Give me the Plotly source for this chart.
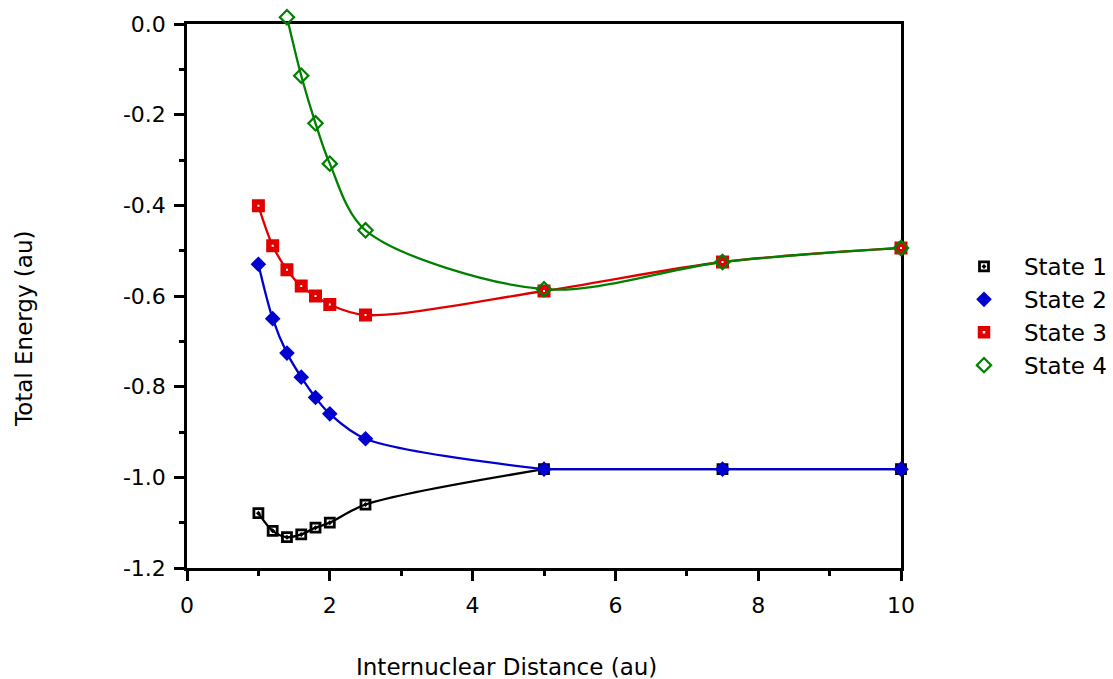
import plotly.graph_objects as go

# Potential energy curves for four electronic states
r_au = [1.0, 1.2, 1.4, 1.6, 1.8, 2.0, 2.5, 5.0, 7.5, 10.0]

state1 = [-1.079, -1.118, -1.132, -1.126, -1.111, -1.100, -1.060, -0.982, -0.982, -0.982]
state2 = [-0.530, -0.650, -0.726, -0.779, -0.824, -0.860, -0.915, -0.982, -0.982, -0.982]
state3 = [-0.401, -0.489, -0.542, -0.578, -0.600, -0.619, -0.642, -0.589, -0.525, -0.494]
r_state4 = [1.4, 1.6, 1.8, 2.0, 2.5, 5.0, 7.5, 10.0]
state4 = [0.015, -0.114, -0.219, -0.308, -0.455, -0.585, -0.525, -0.494]

x_ticks = [0, 2, 4, 6, 8, 10]
y_ticks = [0.0, -0.2, -0.4, -0.6, -0.8, -1.0, -1.2]
y_tick_text = ["0.0", "-0.2", "-0.4", "-0.6", "-0.8", "-1.0", "-1.2"]

names = ["State 1", "State 2", "State 3", "State 4"]
colors = ["#000000", "#0000d0", "#e00000", "#008000"]

FONT = "DejaVu Sans"
FS = 22
FS_TITLE = 23

# plot frame in pixels
W, H = 1113, 679
L, R, T, B = 187, 901, 24, 568
TOP_PAD = 10                      # room above the frame for markers sitting on y = 0
y_dom_top = (B - T) / (B - TOP_PAD)   # frame height as a fraction of the taller paper area
Y_MIN, Y_MAX = -1.2, 0.0
y2_max = Y_MIN + (Y_MAX - Y_MIN) / y_dom_top

markers = [
    dict(symbol="square-open-dot", size=9, color=colors[0],
         line=dict(color=colors[0], width=2.8)),
    dict(symbol="diamond", size=12, color=colors[1],
         line=dict(color=colors[1], width=0)),
    dict(symbol="square", size=7.5, color="#ffffff",
         line=dict(color=colors[2], width=5.5)),
    dict(symbol="diamond-open", size=11, color=colors[3],
         line=dict(color=colors[3], width=2.2)),
]

fig = go.Figure()


def curve(xs, ys, color):
    fig.add_trace(go.Scatter(
        x=xs, y=ys, mode="lines", showlegend=False, hoverinfo="skip",
        line=dict(color=color, width=2.3, shape="spline", smoothing=0.9),
    ))


# States 1 and 2 level off at the dissociation limit beyond R = 5
for ys, color in [(state1, colors[0]), (state2, colors[1])]:
    curve(r_au[:8], ys[:8], color)
    curve(r_au[7:], ys[7:], color)
curve(r_au, state3, colors[2])
curve(r_state4, state4, colors[3])

# markers live on a taller copy of the energy axis so points at y = 0 stay visible
data = [(r_au, state1), (r_au, state2), (r_au, state3), (r_state4, state4)]
for name, (xs, ys), marker in zip(names, data, markers):
    fig.add_trace(go.Scatter(
        x=xs, y=ys, mode="markers", name=name, marker=marker,
        xaxis="x", yaxis="y2", cliponaxis=False,
    ))

tick_style = dict(
    showgrid=False, zeroline=False, automargin=False,
    ticks="outside", ticklen=10, tickwidth=2.5, tickcolor="black",
    tickfont=dict(family=FONT, size=FS, color="black"),
)

fig.update_layout(
    xaxis=dict(
        range=[0, 10], tickvals=x_ticks, ticktext=[str(v) for v in x_ticks],
        showline=True, linecolor="black", linewidth=2.5, mirror=True,
        minor=dict(ticks="outside", ticklen=5, tickwidth=2.5, tickcolor="black", dtick=1),
        ticklabelstandoff=6, anchor="y",
        **tick_style,
    ),
    yaxis=dict(
        range=[Y_MIN, Y_MAX], domain=[0, y_dom_top],
        tickvals=y_ticks, ticktext=y_tick_text,
        showline=True, linecolor="black", linewidth=2.5, mirror=True,
        minor=dict(ticks="outside", ticklen=5, tickwidth=2.5, tickcolor="black", dtick=0.1),
        ticklabelstandoff=4, anchor="x",
        **tick_style,
    ),
    yaxis2=dict(
        range=[Y_MIN, y2_max], domain=[0, 1], anchor="x",
        visible=False, showgrid=False, zeroline=False, automargin=False,
    ),
)

fig.add_annotation(
    text="Internuclear Distance (au)", xref="paper", yref="paper",
    x=(506 - L) / (R - L), y=-(667 - B) / (B - TOP_PAD),
    xanchor="center", yanchor="middle", showarrow=False,
    font=dict(family=FONT, size=FS_TITLE, color="black"),
)
fig.add_annotation(
    text="Total Energy (au)", xref="paper", yref="paper",
    x=-(L - 24) / (R - L), y=(B - 329) / (B - TOP_PAD),
    xanchor="center", yanchor="middle", textangle=-90, showarrow=False,
    font=dict(family=FONT, size=FS_TITLE, color="black"),
)

fig.update_layout(
    width=W, height=H,
    margin=dict(l=L, r=W - R, t=TOP_PAD, b=H - B, autoexpand=False),
    paper_bgcolor="white", plot_bgcolor="rgba(0,0,0,0)",
    font=dict(family=FONT, size=FS, color="black"),
    legend=dict(
        xref="container", yref="container",
        x=944 / W, y=1 - 316 / H,
        xanchor="left", yanchor="middle",
        font=dict(family=FONT, size=FS_TITLE, color="black"),
        bgcolor="rgba(0,0,0,0)", itemwidth=70, tracegroupgap=0,
    ),
)

fig.write_html("out.html")
